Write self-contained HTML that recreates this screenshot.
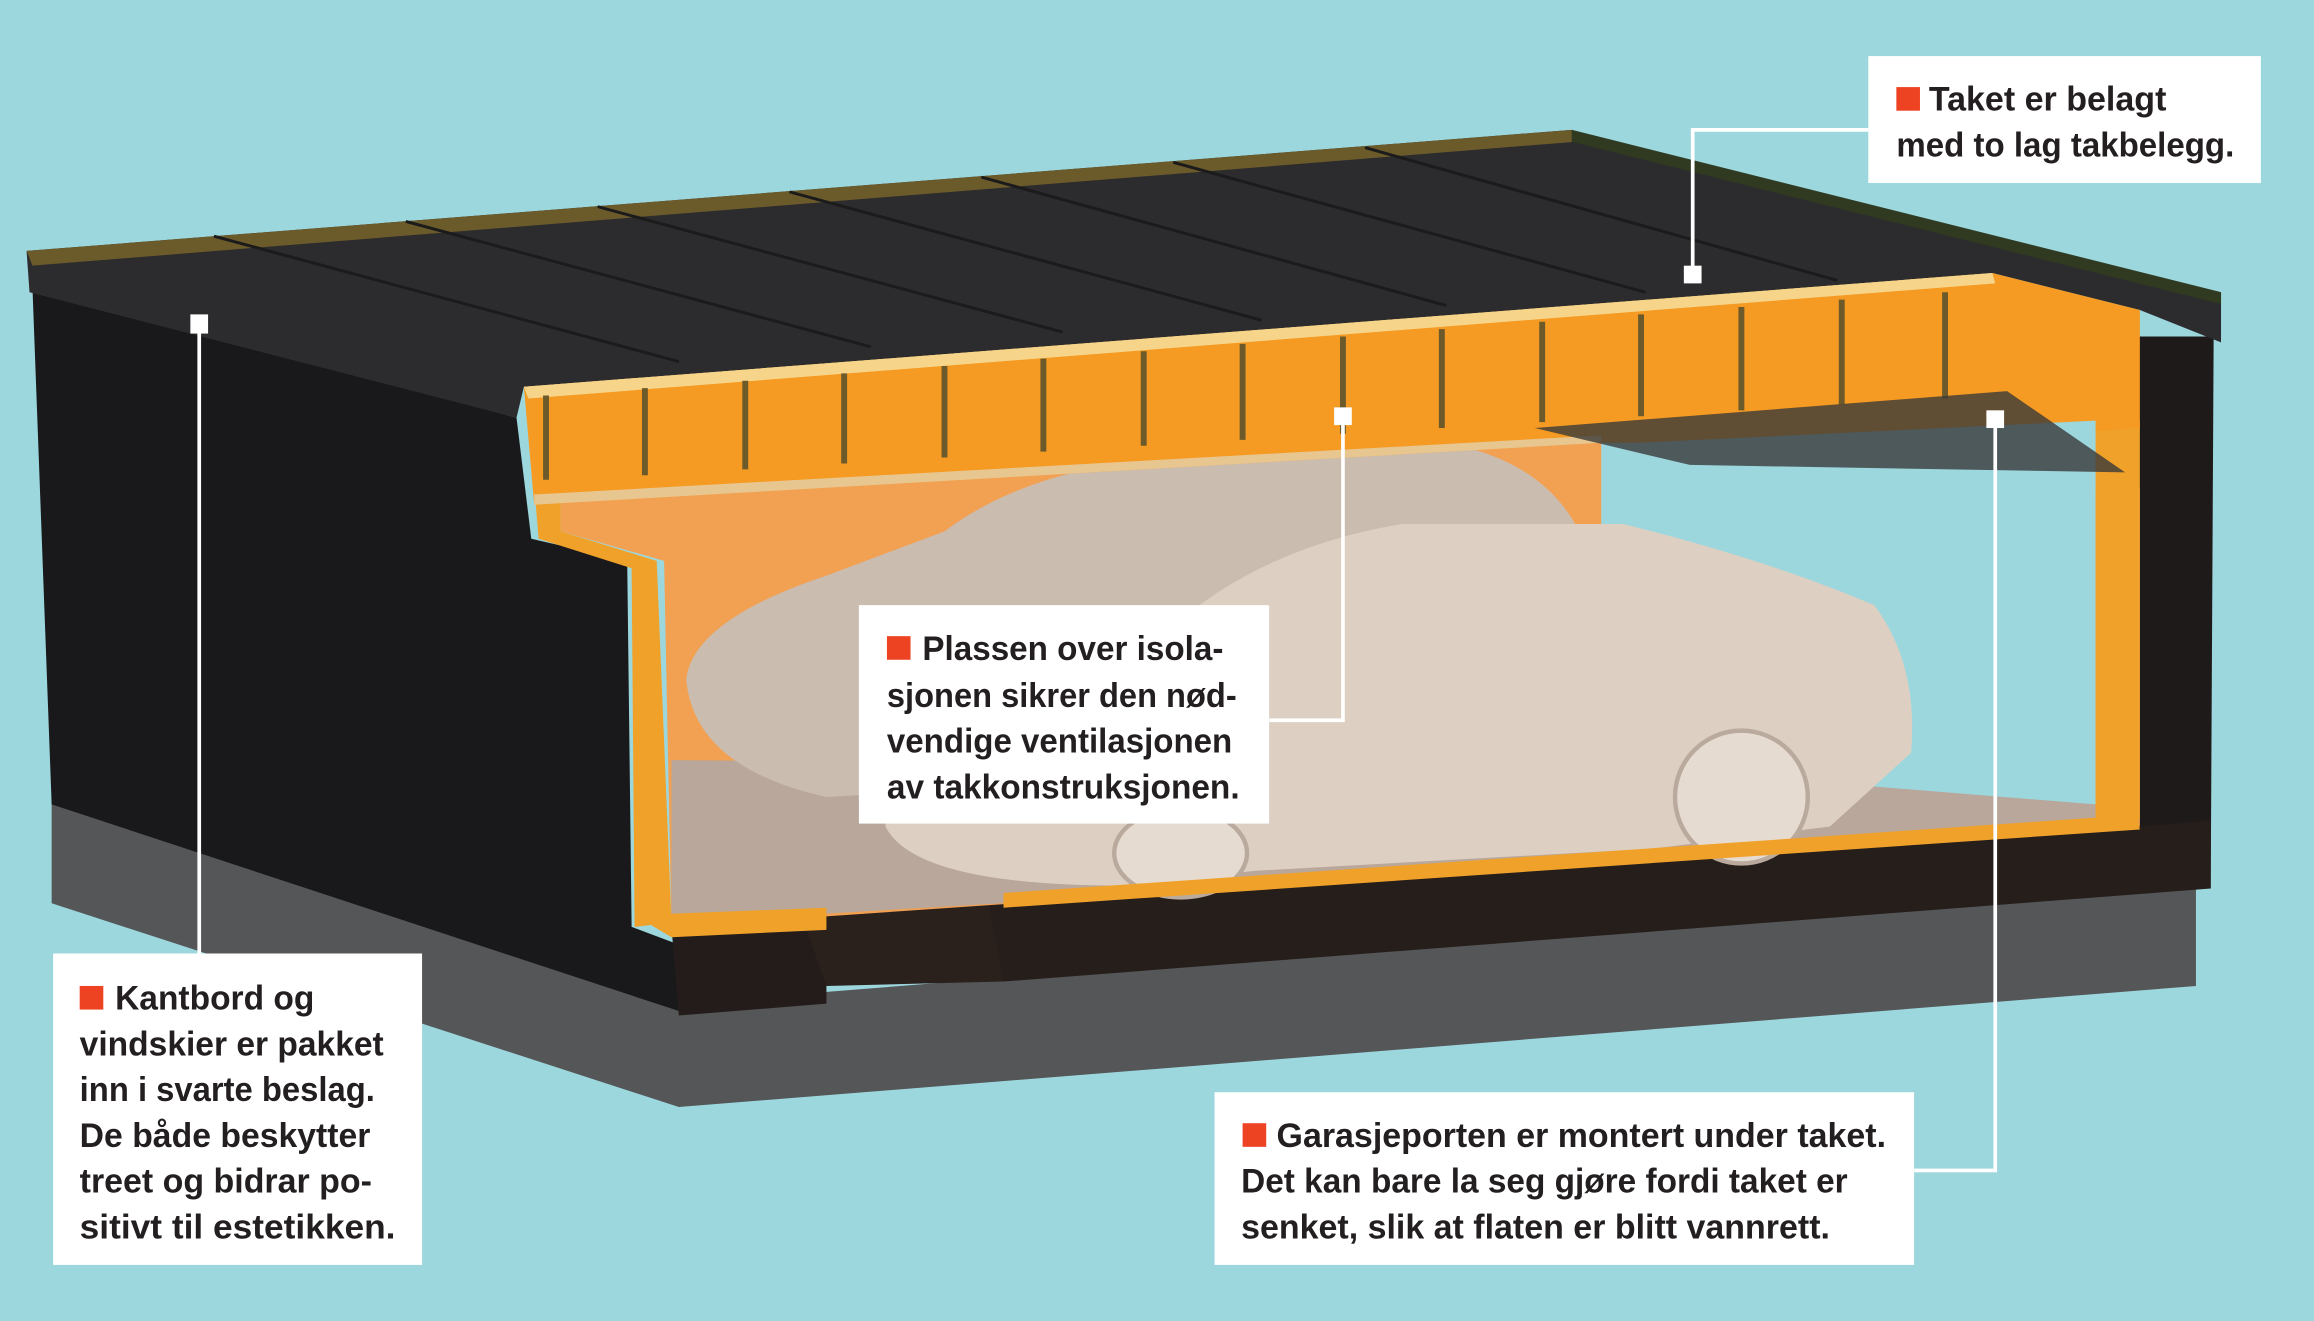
<!DOCTYPE html>
<html><head><meta charset="utf-8"><style>
html,body{margin:0;padding:0;background:#9dd7de;}
svg{display:block}
text{font-family:"Liberation Sans Narrow","Liberation Sans",sans-serif;font-weight:bold;fill:#231f20;font-size:23px}
</style></head><body>
<svg width="2314" height="1321" viewBox="0 0 1568 895" preserveAspectRatio="none" xmlns="http://www.w3.org/2000/svg">
<rect width="1568" height="895" fill="#9dd7de"/>
<!-- foundation -->
<polygon points="35,540 460,680 1488,598 1488,668 460,750 35,612" fill="#555658"/>
<!-- left wall -->
<polygon points="22,195 350,283 360,365 425,380 428,628 460,640 460,685 35,545" fill="#19191c"/>
<!-- right wall strip -->
<polygon points="1448,228 1500,228 1498,602 1448,568" fill="#1f1a1a"/>
<!-- front dark base -->
<polygon points="455,628 560,622 560,680 460,688" fill="#231c1a"/>
<polygon points="540,612 680,605 680,665 560,668" fill="#2a201c"/>
<polygon points="670,612 1450,560 1498,556 1498,602 680,665" fill="#261e1b"/>
<!-- back wall interior -->
<polygon points="380,340 1085,285 1085,365 1450,330 1450,560 455,628 450,380 380,360" fill="#f2a052"/>
<polygon points="1110,300 1420,285 1420,555 1110,560" fill="#9dd7de"/>
<!-- floor -->
<polygon points="455,515 1110,520 1420,545 1420,560 680,612 455,625" fill="#b8a79a"/>
<!-- cars -->
<path d="M465,460 Q470,420 560,390 L640,360 Q700,315 800,310 L1000,305 Q1050,320 1070,360 L1080,400 L900,520 L560,540 Q470,520 465,460Z" fill="#cbbcb0"/>
<path d="M600,560 Q600,520 700,480 L800,420 Q860,370 950,355 L1100,355 Q1200,380 1270,410 Q1300,450 1295,510 L1240,560 L1120,575 L850,590 L760,600 Q620,600 600,560Z" fill="#ddcfc2"/>
<ellipse cx="1180" cy="540" rx="45" ry="45" fill="#e6dbd0" stroke="#b9aa9d" stroke-width="3"/>
<ellipse cx="800" cy="578" rx="45" ry="30" fill="#e6dbd0" stroke="#b9aa9d" stroke-width="3"/>
<!-- left wall orange section -->
<polygon points="362,330 380,330 380,360 445,380 455,625 430,628 428,385 365,365" fill="#f0a12a"/>
<polygon points="430,620 560,615 560,630 455,635" fill="#f0a12a"/>
<polygon points="680,605 1448,552 1450,562 680,615" fill="#f0a12a"/>
<polygon points="1420,290 1450,285 1450,555 1420,558" fill="#f0a12a"/>
<!-- roof -->
<polygon points="18,170 1065,88 1505,198 1505,232 1450,210 1350,185 355,262 350,283 20,198" fill="#2c2c2e"/>
<polygon points="18,170 1065,88 1068,96 22,180" fill="#6b5a2a"/>
<polygon points="1065,88 1505,198 1505,206 1065,96" fill="#2f3a20"/>
<g stroke="#1b1b1b" stroke-width="2">
<line x1="145" y1="160" x2="460" y2="245"/><line x1="275" y1="150" x2="590" y2="235"/>
<line x1="405" y1="140" x2="720" y2="225"/><line x1="535" y1="130" x2="855" y2="217"/>
<line x1="665" y1="120" x2="980" y2="207"/><line x1="795" y1="110" x2="1115" y2="198"/>
<line x1="925" y1="100" x2="1245" y2="190"/>
</g>
<!-- roof beam section -->
<polygon points="355,262 1350,185 1450,210 1450,290 1420,292 1420,285 1110,300 1085,300 362,342" fill="#f59a22"/>
<polygon points="355,262 1350,185 1352,192 358,270" fill="#f6d58a"/>
<polygon points="362,335 1085,295 1085,300 362,342" fill="#e8c690"/>
<g stroke="#6d5a2a" stroke-width="4">
<line x1="370" y1="268" x2="370" y2="325"/><line x1="437" y1="263" x2="437" y2="322"/><line x1="505" y1="258" x2="505" y2="318"/><line x1="572" y1="253" x2="572" y2="314"/><line x1="640" y1="248" x2="640" y2="310"/><line x1="707" y1="243" x2="707" y2="306"/><line x1="775" y1="238" x2="775" y2="302"/><line x1="842" y1="233" x2="842" y2="298"/><line x1="910" y1="228" x2="910" y2="294"/><line x1="977" y1="223" x2="977" y2="290"/><line x1="1045" y1="218" x2="1045" y2="286"/><line x1="1112" y1="213" x2="1112" y2="282"/><line x1="1180" y1="208" x2="1180" y2="278"/><line x1="1248" y1="203" x2="1248" y2="274"/><line x1="1318" y1="198" x2="1318" y2="270"/>
</g>
<!-- garage door -->
<polygon points="1040,290 1360,265 1440,320 1145,315" fill="#3a3a3a" opacity="0.8"/>
<!-- leader lines -->
<g stroke="#fff" stroke-width="2.5" fill="none">
<polyline points="1147,186 1147,88 1266,88"/>
<line x1="135" y1="220" x2="135" y2="646"/>
<polyline points="910,282 910,488 860,488"/>
<polyline points="1352,284 1352,793 1297,793"/>
</g>
<g fill="#fff"><rect x="1141" y="180" width="12" height="12"/><rect x="129" y="213" width="12" height="13"/><rect x="904" y="276" width="12" height="12"/><rect x="1346" y="278" width="12" height="12"/></g>
<!-- boxes -->
<rect x="1266" y="38" width="266" height="86" fill="#fff"/>
<rect x="582" y="410" width="278" height="148" fill="#fff"/>
<rect x="36" y="646" width="250" height="211" fill="#fff"/>
<rect x="823" y="740" width="474" height="117" fill="#fff"/>
<g fill="#ee4323"><rect x="1285" y="59" width="16" height="16"/><rect x="601" y="431" width="16" height="16"/><rect x="54" y="668" width="16" height="16"/><rect x="842" y="761" width="16" height="16"/></g>
<text x="1307" y="75" textLength="161" lengthAdjust="spacingAndGlyphs">Taket er belagt</text>
<text x="1285" y="106" textLength="229" lengthAdjust="spacingAndGlyphs">med to lag takbelegg.</text>
<text x="625" y="447" textLength="204" lengthAdjust="spacingAndGlyphs">Plassen over isola-</text>
<text x="601" y="479" textLength="237" lengthAdjust="spacingAndGlyphs">sjonen sikrer den nød-</text>
<text x="601" y="510" textLength="234" lengthAdjust="spacingAndGlyphs">vendige ventilasjonen</text>
<text x="601" y="541" textLength="239" lengthAdjust="spacingAndGlyphs">av takkonstruksjonen.</text>
<text x="78" y="684" textLength="135" lengthAdjust="spacingAndGlyphs">Kantbord og</text>
<text x="54" y="715" textLength="206" lengthAdjust="spacingAndGlyphs">vindskier er pakket</text>
<text x="54" y="746" textLength="200" lengthAdjust="spacingAndGlyphs">inn i svarte beslag.</text>
<text x="54" y="777" textLength="197" lengthAdjust="spacingAndGlyphs">De både beskytter</text>
<text x="54" y="808" textLength="198" lengthAdjust="spacingAndGlyphs">treet og bidrar po-</text>
<text x="54" y="839" textLength="214" lengthAdjust="spacingAndGlyphs">sitivt til  estetikken.</text>
<text x="865" y="777" textLength="413" lengthAdjust="spacingAndGlyphs">Garasjeporten er montert under taket.</text>
<text x="841" y="808" textLength="411" lengthAdjust="spacingAndGlyphs">Det kan bare la seg gjøre fordi taket er</text>
<text x="841" y="839" textLength="399" lengthAdjust="spacingAndGlyphs">senket, slik at flaten er blitt vannrett.</text>
</svg>
</body></html>
